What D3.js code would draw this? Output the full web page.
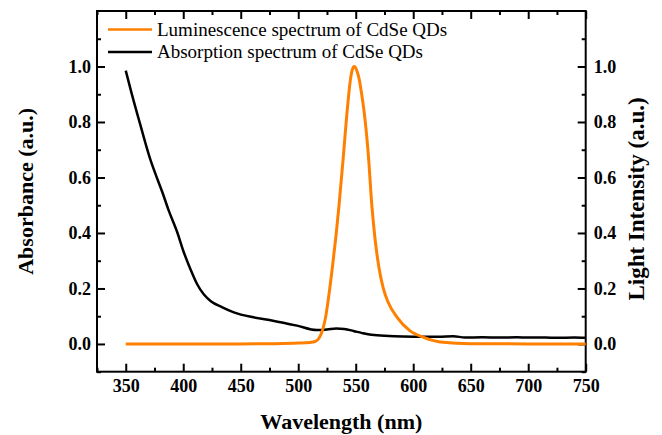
<!DOCTYPE html>
<html><head><meta charset="utf-8">
<script src="https://cdn.jsdelivr.net/npm/d3@7"></script>
<style>
html,body{margin:0;padding:0;background:#fff;}
svg{display:block;}
</style></head>
<body><svg id="chart" width="662" height="435"></svg>
<script>
// Data
const lumWavelength = [350,400,450,480,500,510,515,518.3,521,523.8,526,529.7,533,535.5,539.3,543,545.3,546.8,548.7,551,553,555,557.5,561,564,566.5,570,574,578,586,597,609,626,650,700,750];
const lumIntensity  = [0,0,0,0.001,0.003,0.005,0.009,0.022,0.048,0.096,0.156,0.276,0.396,0.5,0.68,0.86,0.95,0.985,1.0,0.985,0.955,0.905,0.83,0.68,0.5,0.39,0.28,0.2,0.152,0.096,0.048,0.024,0.006,0.001,0,0];
const absWavelength = [350,355,363,371,377,382,387,395,400,406,412,418,424,434,444,461,478,499,516,525,533,540,548,555,562,575,591,610,622,635,645,660,675,690,700,715,725,740,750];
const absValue      = [0.985,0.905,0.785,0.67,0.60,0.545,0.485,0.40,0.336,0.272,0.216,0.178,0.154,0.132,0.114,0.096,0.084,0.066,0.050,0.052,0.056,0.054,0.047,0.040,0.034,0.030,0.027,0.026,0.026,0.028,0.023,0.024,0.023,0.024,0.023,0.023,0.022,0.023,0.022];
const xTicks = [350,400,450,500,550,600,650,700,750];
const xMinor = [325,375,425,475,525,575,625,675,725];
const yTicks = [0.0,0.2,0.4,0.6,0.8,1.0];
const yMinor = [-0.1,0.1,0.3,0.5,0.7,0.9,1.1];
const legendLabels = ["Luminescence spectrum of CdSe QDs","Absorption spectrum of CdSe QDs"];
const seriesColors = ["#ff8000","#000000"];

const FONT = '"Liberation Serif"';
const svg = d3.select("#chart");
const L = 97, R = 585.7, T = 11, B = 371.7;
const x = d3.scaleLinear().domain([325,750]).range([L,R]);
const yL = d3.scaleLinear().domain([-0.1,1.2]).range([B,T]);
const yR = d3.scaleLinear().domain([-0.1,1.2]).range([B,T]);

const fmt = d3.format(".1f");
function styleAxis(g){
  g.attr("font-family",null);
  g.select(".domain").remove();
  g.selectAll("line").attr("stroke","#000").attr("stroke-width",2);
  g.selectAll("text").style("font-family",FONT).attr("font-size",18).attr("font-weight","bold").attr("fill","#000");
}
// major
svg.append("g").attr("transform",`translate(0,${B})`)
  .call(d3.axisBottom(x).tickValues(xTicks).tickSize(-8).tickPadding(8).tickFormat(d3.format("d"))).call(styleAxis);
svg.append("g").attr("transform",`translate(0,${T})`)
  .call(d3.axisTop(x).tickValues(xTicks).tickSize(-8).tickFormat("")).call(styleAxis);
svg.append("g").attr("transform",`translate(${L},0)`)
  .call(d3.axisLeft(yL).tickValues(yTicks).tickSize(-8).tickPadding(6).tickFormat(fmt)).call(styleAxis);
svg.append("g").attr("transform",`translate(${R},0)`)
  .call(d3.axisRight(yR).tickValues(yTicks).tickSize(-8).tickPadding(8).tickFormat(fmt)).call(styleAxis);
// minor
svg.append("g").attr("transform",`translate(0,${B})`).call(d3.axisBottom(x).tickValues(xMinor).tickSize(-4).tickFormat("")).call(styleAxis);
svg.append("g").attr("transform",`translate(0,${T})`).call(d3.axisTop(x).tickValues(xMinor).tickSize(-4).tickFormat("")).call(styleAxis);
svg.append("g").attr("transform",`translate(${L},0)`).call(d3.axisLeft(yL).tickValues(yMinor).tickSize(-4).tickFormat("")).call(styleAxis);
svg.append("g").attr("transform",`translate(${R},0)`).call(d3.axisRight(yR).tickValues(yMinor).tickSize(-4).tickFormat("")).call(styleAxis);

// frame
svg.append("rect").attr("x",L).attr("y",T).attr("width",R-L).attr("height",B-T)
  .attr("fill","none").attr("stroke","#000").attr("stroke-width",2);

// curves
const absLine = d3.line().x((d,i)=>x(absWavelength[i])).y((d,i)=>yL(absValue[i])).curve(d3.curveMonotoneX);
const lumLine = d3.line().x((d,i)=>x(lumWavelength[i])).y((d,i)=>yR(lumIntensity[i])).curve(d3.curveMonotoneX);
svg.append("path").attr("d",absLine(absValue)).attr("fill","none").attr("stroke",seriesColors[1]).attr("stroke-width",2.5);
svg.append("path").attr("d",lumLine(lumIntensity)).attr("fill","none").attr("stroke",seriesColors[0]).attr("stroke-width",3);

// legend
legendLabels.forEach((lab,i)=>{
  const yy = 29.5 + i*22.5;
  svg.append("line").attr("x1",108).attr("x2",152).attr("y1",yy).attr("y2",yy)
    .attr("stroke",seriesColors[i]).attr("stroke-width",2.5);
  svg.append("text").attr("x",157).attr("y",yy+6).style("font-family",FONT).attr("font-size",19).attr("fill","#000").text(lab);
});

// axis titles
svg.append("text").attr("x",(L+R)/2).attr("y",429).attr("text-anchor","middle").style("font-family",FONT)
  .attr("font-size",22).attr("font-weight","bold").text("Wavelength (nm)");
svg.append("text").attr("transform",`translate(33,${(T+B)/2}) rotate(-90)`).attr("text-anchor","middle").style("font-family",FONT)
  .attr("font-size",22).attr("font-weight","bold").text("Absorbance (a.u.)");
svg.append("text").attr("transform",`translate(644,199) rotate(-90)`).attr("text-anchor","middle").style("font-family",FONT)
  .attr("font-size",23).attr("font-weight","bold").text("Light Intensity (a.u.)");
</script></body></html>
